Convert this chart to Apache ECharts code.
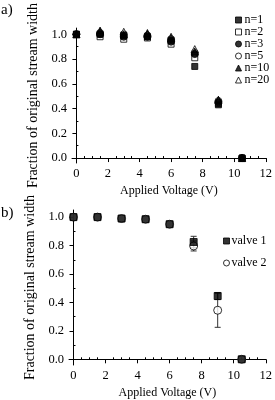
<!DOCTYPE html>
<html><head><meta charset="utf-8">
<script src="https://cdn.jsdelivr.net/npm/echarts@6/dist/echarts.min.js"></script>
<style>html,body{margin:0;padding:0;background:#fff}#c{width:275px;height:400px}</style>
</head><body><div id="c"></div>
<script>
// ---- data ----
const voltages = [0, 1.5, 3, 4.5, 6, 7.5, 9, 10.5];
const n1  = [1.00, 1.00, 0.99, 0.98, 0.95, 0.74, 0.43, 0.00];
const n2  = [1.00, 0.98, 0.96, 0.97, 0.92, 0.81, 0.44, 0.00];
const n3  = [1.00, 1.00, 0.98, 0.98, 0.94, 0.84, 0.45, 0.00];
const n5  = [1.00, 1.01, 1.00, 0.99, 0.96, 0.85, 0.46, 0.00];
const n10 = [1.00, 1.03, 1.00, 1.01, 0.97, 0.86, 0.47, 0.00];
const n20 = [1.00, 1.02, 1.02, 1.00, 0.98, 0.88, 0.47, 0.00];
const valve1    = [1.00, 1.00, 0.99, 0.985, 0.95, 0.825, 0.445, 0.00];
const valve1Err = [0, 0, 0, 0, 0, 0.04, 0.025, 0];
const valve2    = [1.00, 1.00, 0.99, 0.985, 0.95, 0.797, 0.345, 0.00];
const valve2Err = [0, 0, 0, 0, 0, 0.035, 0.12, 0];
const xTicks = [0, 2, 4, 6, 8, 10, 12];
const xMinor = [0.5,1,1.5,2.5,3,3.5,4.5,5,5.5,6.5,7,7.5,8.5,9,9.5,10.5,11,11.5];
const yTicks = [0, 0.2, 0.4, 0.6, 0.8, 1.0];
const yMinor = [0.1, 0.3, 0.5, 0.7, 0.9];

const FONT = '"Liberation Serif", "DejaVu Serif", serif';
const pairs = (ys) => voltages.map((x, i) => [x, ys[i]]);

function xAx(gi, minor) {
  return {
    type: 'value', gridIndex: gi, min: -0.28, max: 12,
    name: minor ? '' : 'Applied Voltage (V)', nameLocation: 'middle', nameGap: 22,
    nameTextStyle: {fontFamily: FONT, fontSize: 12, color: '#000'},
    axisLine: {show: !minor, lineStyle: {color: '#000', width: 1}},
    axisTick: {show: true, customValues: minor ? xMinor : xTicks, length: minor ? 2 : 4, lineStyle: {color: '#000'}},
    axisLabel: {show: !minor, customValues: xTicks, margin: 4, fontFamily: FONT, fontSize: 12.5, color: '#000'},
    splitLine: {show: false}
  };
}
function yAx(gi, minor, gap) {
  return {
    type: 'value', gridIndex: gi, min: -0.04, max: 1.05,
    name: minor ? '' : 'Fraction of original stream width', nameLocation: 'middle', nameRotate: 90, nameGap: gap,
    nameTextStyle: {fontFamily: FONT, fontSize: 14, color: '#000'},
    axisLine: {show: !minor, lineStyle: {color: '#000', width: 1}},
    axisTick: {show: true, customValues: minor ? yMinor : yTicks, length: minor ? 2 : 4, lineStyle: {color: '#000'}},
    axisLabel: {show: !minor, customValues: yTicks, margin: 5, fontFamily: FONT, fontSize: 12.5, color: '#000',
      formatter: v => v.toFixed(1)},
    splitLine: {show: false}
  };
}
const filled = {color: '#000', borderColor: '#000', borderWidth: 1};
const hollow = {color: '#fff', borderColor: '#000', borderWidth: 1};

function sc(name, ys, symbol, style, xi, yi, size) {
  return {name, type: 'scatter', xAxisIndex: xi, yAxisIndex: yi, data: pairs(ys),
    symbol, symbolSize: size, itemStyle: style, z: 3};
}
function errSeries(ys, errs, xi, yi) {
  const data = voltages.map((x, i) => [x, ys[i], errs[i]]).filter(d => d[2] > 0);
  return {type: 'custom', xAxisIndex: xi, yAxisIndex: yi, data, z: 2, silent: true,
    renderItem: (params, api) => {
      const x = api.value(0), y = api.value(1), e = api.value(2);
      const top = api.coord([x, y + e]), bot = api.coord([x, y - e]);
      const w = 3;
      return {type: 'group', children: [
        {type: 'line', shape: {x1: top[0], y1: top[1], x2: bot[0], y2: bot[1]}, style: {stroke: '#333', lineWidth: 1}},
        {type: 'line', shape: {x1: top[0]-w, y1: top[1], x2: top[0]+w, y2: top[1]}, style: {stroke: '#333', lineWidth: 1}},
        {type: 'line', shape: {x1: bot[0]-w, y1: bot[1], x2: bot[0]+w, y2: bot[1]}, style: {stroke: '#333', lineWidth: 1}}
      ]};
    }};
}
const legendText = {fontFamily: FONT, fontSize: 12, color: '#000', lineHeight: 12};

const option = {
  backgroundColor: '#fff',
  animation: false,
  textStyle: {fontFamily: FONT},
  graphic: [
    {type: 'text', left: 1, top: 3, style: {text: 'a)', fontFamily: FONT, fontSize: 15, fill: '#000'}},
    {type: 'text', left: 1, top: 206, style: {text: 'b)', fontFamily: FONT, fontSize: 15, fill: '#000'}}
  ],
  grid: [
    {left: 72, width: 194, top: 2, height: 161},
    {left: 69, width: 197, top: 210, height: 158}
  ],
  xAxis: [xAx(0, false), xAx(0, true), xAx(1, false), xAx(1, true)],
  yAxis: [yAx(0, false, 25), yAx(0, true, 25), yAx(1, false, 20), yAx(1, true, 20)],
  legend: [
    {data: ['n=1','n=2','n=3','n=5','n=10','n=20'], orient: 'vertical', left: 230, top: 9,
      itemWidth: 6, itemHeight: 6, itemGap: 0, itemStyle: {borderWidth: 1},
      textStyle: Object.assign({padding: [0,0,0,-2]}, legendText)},
    {data: ['valve 1','valve 2'], orient: 'vertical', left: 218, top: 230,
      itemWidth: 6, itemHeight: 6, itemGap: 10, itemStyle: {borderWidth: 1},
      textStyle: Object.assign({padding: [0,0,0,-3]}, legendText)}
  ],
  series: [
    sc('n=2', n2, 'rect', hollow, 0, 0, 6),
    sc('n=5', n5, 'circle', hollow, 0, 0, 7),
    sc('n=20', n20, 'triangle', hollow, 0, 0, 7),
    sc('n=1', n1, 'rect', filled, 0, 0, 6),
    sc('n=3', n3, 'circle', filled, 0, 0, 7),
    sc('n=10', n10, 'triangle', filled, 0, 0, 7),
    errSeries(valve1, valve1Err, 2, 2),
    errSeries(valve2, valve2Err, 2, 2),
    sc('valve 2', valve2, 'circle', hollow, 2, 2, 8),
    sc('valve 1', valve1, 'rect', filled, 2, 2, 7)
  ]
};
const chart = echarts.init(document.getElementById('c'), null, {renderer: 'canvas'});
chart.setOption(option);
</script></body></html>
